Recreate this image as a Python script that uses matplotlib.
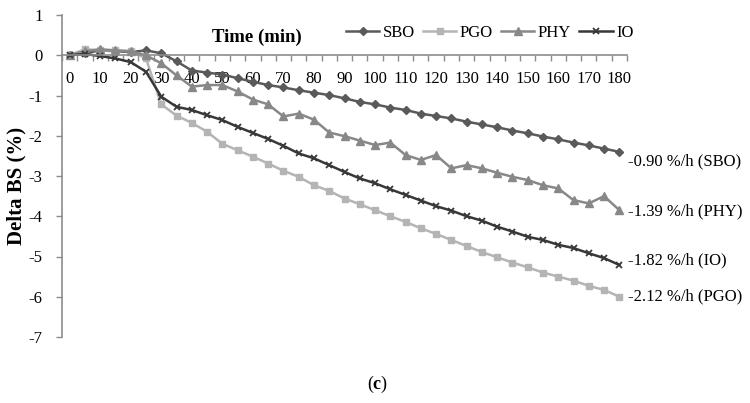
import matplotlib
matplotlib.use('Agg')
import matplotlib.pyplot as plt
import numpy as np

# time points every 5 min, 0..180
time_min = list(range(0, 185, 5))

sbo = [0.0, 0.05, 0.12, 0.10, 0.08, 0.12, 0.05, -0.15, -0.38, -0.43,
       -0.48, -0.57, -0.66, -0.74, -0.80, -0.87, -0.93, -0.99, -1.07, -1.16,
       -1.22, -1.30, -1.36, -1.45, -1.51, -1.57, -1.65, -1.72, -1.79, -1.87,
       -1.94, -2.02, -2.09, -2.17, -2.24, -2.32, -2.40]
pgo = [0.0, 0.15, 0.12, 0.12, 0.10, -0.08, -1.22, -1.50, -1.68, -1.90,
       -2.20, -2.36, -2.52, -2.69, -2.87, -3.02, -3.23, -3.37, -3.56, -3.70,
       -3.85, -4.00, -4.14, -4.30, -4.44, -4.59, -4.74, -4.89, -5.02, -5.15,
       -5.27, -5.40, -5.50, -5.60, -5.73, -5.83, -6.00]
phy = [0.0, 0.10, 0.15, 0.12, 0.10, 0.00, -0.20, -0.50, -0.78, -0.74,
       -0.74, -0.90, -1.10, -1.22, -1.52, -1.45, -1.60, -1.92, -2.01, -2.12,
       -2.23, -2.17, -2.48, -2.60, -2.48, -2.81, -2.73, -2.81, -2.92, -3.02,
       -3.10, -3.23, -3.31, -3.60, -3.68, -3.50, -3.85]
io = [0.0, 0.03, -0.02, -0.08, -0.17, -0.41, -1.03, -1.28, -1.36, -1.49,
      -1.61, -1.78, -1.93, -2.08, -2.25, -2.44, -2.56, -2.73, -2.90, -3.06,
      -3.18, -3.33, -3.47, -3.61, -3.75, -3.86, -4.00, -4.11, -4.26, -4.38,
      -4.51, -4.59, -4.71, -4.79, -4.92, -5.04, -5.21]

names = ['SBO', 'PGO', 'PHY', 'IO']
rate_labels = ['-0.90 %/h (SBO)', '-2.12 %/h (PGO)', '-1.39 %/h (PHY)', '-1.82 %/h (IO)']

plt.rcParams['font.family'] = ['Liberation Serif', 'DejaVu Serif']
plt.rcParams['axes.unicode_minus'] = False
plt.rcParams['mathtext.fontset'] = 'custom'
plt.rcParams['mathtext.bf'] = 'Liberation Serif:bold'
plt.rcParams['mathtext.rm'] = 'Liberation Serif'

fig = plt.figure(figsize=(7.5, 4.03), dpi=100)
ax = fig.add_axes([62 / 750, 1 - 337 / 403, 565 / 750, 322 / 403])

styles = [
    dict(color='#5a5a5a', marker='D', markersize=4.5),
    dict(color='#b4b4b4', marker='s', markersize=5),
    dict(color='#888888', marker='^', markersize=5.5),
    dict(color='#383838', marker='x', markersize=5, markeredgewidth=1.3),
]
series = [sbo, pgo, phy, io]
# text offsets (points) for the end-of-line labels
offsets = [(6, -7), (6, 0), (6, -1), (6, 3)]

for name, vals, st, lab, off in zip(names, series, styles, rate_labels, offsets):
    ax.plot(time_min, vals, label=name, linewidth=1.8, **st)
    ax.annotate(lab, xy=(time_min[-1], vals[-1]), xytext=off,
                textcoords='offset points', va='center', ha='left',
                fontsize=12, annotation_clip=False)

ax.set_xlim(-2.5, 182.5)
ax.set_ylim(-7, 1)

for s in ['top', 'right']:
    ax.spines[s].set_visible(False)
ax.spines['bottom'].set_position(('data', 0))
for s in ['left', 'bottom']:
    ax.spines[s].set_color('#8c8c8c')
    ax.spines[s].set_linewidth(1.2)

ax.set_xticks(range(0, 181, 10))
ax.set_xticks(np.arange(-2.5, 183, 5), minor=True)
ax.tick_params(axis='x', which='major', length=0, pad=11, labelsize=12)
ax.tick_params(axis='x', which='minor', length=4, direction='out', color='#8c8c8c', width=1)
ax.set_yticks(range(-7, 2))
ax.tick_params(axis='y', which='major', length=4, direction='out', color='#8c8c8c', width=1,
               labelsize=12, pad=10)

fig.text(16 / 750, 1 - 186 / 403, 'Delta BS (%)', rotation=90, ha='center', va='center',
         fontsize=15, fontweight='bold')
ax.text(0.345, 0.932, 'Time (min)', transform=ax.transAxes, ha='center', va='center',
        fontsize=13.5, fontweight='bold')

ax.legend(loc='center', bbox_to_anchor=(0.757, 0.944), ncol=4, frameon=False,
          fontsize=12, handlelength=2.0, handletextpad=0.2, columnspacing=0.5)

fig.text(0.503, 0.047, r'($\mathbf{c}$)', ha='center', va='center', fontsize=13)

fig.savefig('out.png', dpi=100)
